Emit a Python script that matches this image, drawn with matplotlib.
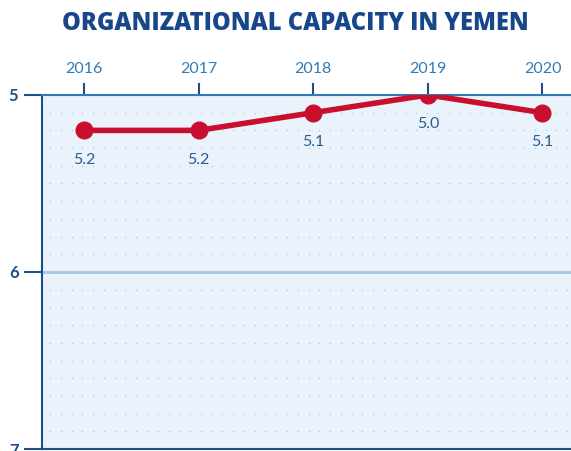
import numpy as np
import matplotlib.pyplot as plt

# ── Data ────────────────────────────────────────────────────
years = [2016, 2017, 2018, 2019, 2020]
scores = [5.2, 5.2, 5.1, 5.0, 5.1]
labels = ["5.2", "5.2", "5.1", "5.0", "5.1"]
y_ticks = [5, 6, 7]

NAVY = "#1d4f86"
BLUE = "#2f7bb5"
RED = "#c8102e"

fig = plt.figure(figsize=(5.71, 4.51), dpi=100)
ax = fig.add_axes([0.0736, 0.0044, 0.93, 0.785])
ax.set_facecolor("#eaf2fb")

ax.set_xlim(2015.633, 2015.633 + 0.93 * 571 / 114.6)
ax.set_ylim(7, 5)

# dotted background grid
gx = np.arange(2015.633 + 0.07, 2021.0, 0.094)
gy = np.arange(5.1, 7.0, 0.1)
GX, GY = np.meshgrid(gx, gy)
ax.scatter(GX.ravel(), GY.ravel(), s=1.0, color="#b3c6da", lw=0, zorder=1)

ax.axhline(6, color="#a5c6e6", lw=2, zorder=2)

ax.plot(years, scores, color=RED, lw=4, marker="o", markersize=12,
        zorder=4, solid_capstyle="round")
for x, y, t in zip(years, scores, labels):
    ax.text(x, y + 0.165, t, ha="center", va="center", fontsize=11.5,
            color="#2a5d8f", family="Lato", zorder=5)

# axes styling
ax.xaxis.tick_top()
ax.set_xticks(years)
ax.set_xticklabels([str(y) for y in years], fontsize=11.5, color=BLUE, family="Lato")
ax.tick_params(axis="x", direction="out", length=9, width=1.5, color=NAVY, pad=5)
ax.set_yticks(y_ticks)
ax.set_yticklabels([str(v) for v in y_ticks], fontsize=12, color=NAVY,
                   fontweight="bold", family="Lato")
ax.tick_params(axis="y", direction="out", length=13, width=1.5, color=NAVY, pad=4)

ax.spines["right"].set_visible(False)
ax.spines["left"].set_color(NAVY)
ax.spines["left"].set_linewidth(1.5)
ax.spines["bottom"].set_color(NAVY)
ax.spines["bottom"].set_linewidth(1.5)
ax.spines["top"].set_color(BLUE)
ax.spines["top"].set_linewidth(1.5)

fig.text(0.517, 0.948, "ORGANIZATIONAL CAPACITY IN YEMEN", ha="center", va="center",
         fontsize=17, fontweight="heavy", color="#17478a", family="Open Sans")

fig.savefig("out.png", dpi=100)
